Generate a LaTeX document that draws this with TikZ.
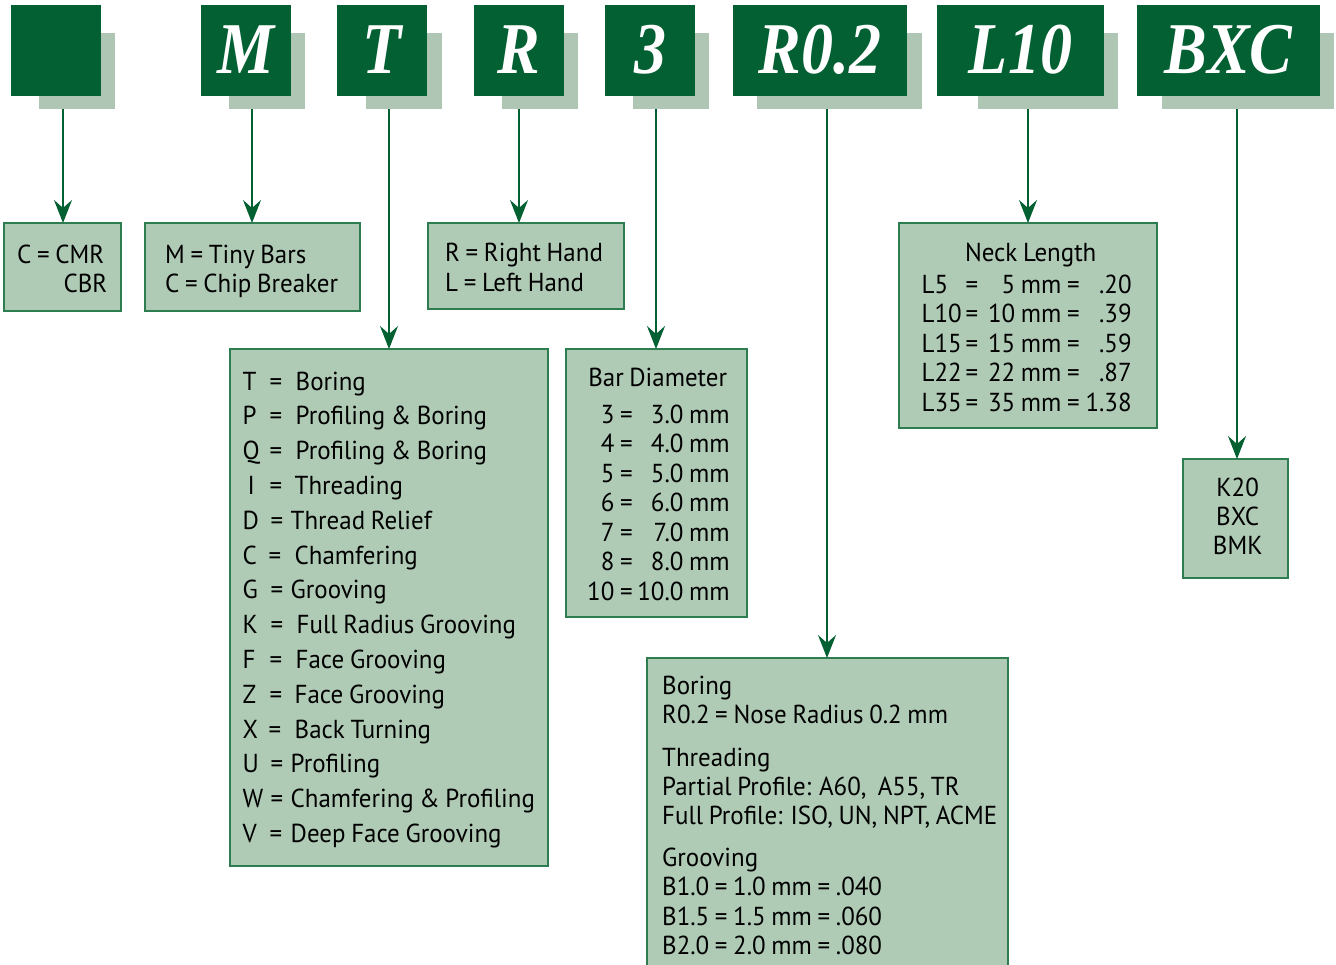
\documentclass[tikz,border=0pt]{standalone}
\usepackage{fontspec}
\usepackage{graphicx}
\setmainfont{PT Sans}[FakeStretch=0.96,WordSpace=0.85]
\newfontfamily\hdfont{Liberation Serif}
\usetikzlibrary{arrows.meta}
\definecolor{dkgreen}{RGB}{3,96,51}
\definecolor{sage}{RGB}{176,203,181}
\definecolor{shadowc}{RGB}{175,198,181}
\definecolor{edgec}{RGB}{45,125,80}
\newcommand\Ln[1]{\hbox{#1}}
\newcommand\putL[2]{\rlap{\hspace*{#1pt}#2}}
\newcommand\putR[2]{\rlap{\hspace*{#1pt}\llap{#2}}}
\newcommand\putC[2]{\rlap{\hspace*{#1pt}\hbox to 0pt{\hss#2\hss}}}
\newcommand\Lines[2]{\vtop{\baselineskip=#1pt\lineskiplimit=-1000pt\lineskip=0pt\relax #2}}
\newcommand\HT[1]{\scalebox{1}[1.14]{#1}}
\tikzset{
 shbox/.style={fill=shadowc, draw=none, inner sep=0pt, outer sep=0pt, anchor=north west, minimum height=76pt},
 hdbox/.style={fill=dkgreen, draw=none, inner sep=0pt, outer sep=0pt, anchor=north west, minimum height=91pt},
 hdtext/.style={text=white, font=\hdfont\bfseries\itshape\fontsize{64}{64}\selectfont, anchor=base, inner sep=0pt},
 infobox/.style={fill=sage, draw=edgec, line width=1.2pt, inner sep=0pt, outer sep=0pt, anchor=north west},
 txt/.style={anchor=base west, inner sep=0pt, font=\fontsize{26}{29.5}\selectfont, text=black},
 conn/.style={draw=dkgreen, line width=2pt, -{Stealth[length=23pt,width=18pt,inset=8pt]}},
}
\begin{document}
\begin{tikzpicture}[x=1pt,y=-1pt]
\useasboundingbox (0,0) rectangle (1336,964);
\clip (0,0) rectangle (1336,964);
\fill[white] (0,0) rectangle (1336,964);
% header shadows
\node[shbox, minimum width=76pt] (s1) at (39,33) {};
\node[shbox, minimum width=76pt] (sM) at (229,33) {};
\node[shbox, minimum width=76pt] (sT) at (366,33) {};
\node[shbox, minimum width=76pt] (sR) at (502,33) {};
\node[shbox, minimum width=76pt] (s3) at (633,33) {};
\node[shbox, minimum width=165pt] (sR02) at (757,33) {};
\node[shbox, minimum width=140pt] (sL10) at (978,33) {};
\node[shbox, minimum width=172pt] (sBXC) at (1162,33) {};
% header boxes
\node[hdbox, minimum width=90pt] (h1) at (11,5) {};
\node[hdbox, minimum width=90pt] (hM) at (201,5) {};
\node[hdbox, minimum width=90pt] (hT) at (337,5) {};
\node[hdbox, minimum width=90pt] (hR) at (474,5) {};
\node[hdbox, minimum width=90pt] (h3) at (605,5) {};
\node[hdbox, minimum width=174pt] (hR02) at (733,5) {};
\node[hdbox, minimum width=167pt] (hL10) at (937,5) {};
\node[hdbox, minimum width=183pt] (hBXC) at (1137,5) {};
\node[hdtext] (tM) at (246,73) {\HT{M}};
\node[hdtext] (tT) at (382,73) {\HT{T}};
\node[hdtext] (tR) at (519,73) {\HT{R}};
\node[hdtext] (t3) at (650,73) {\HT{3}};
\node[hdtext] (tR02) at (820,73) {\HT{R0.2}};
\node[hdtext] (tL10) at (1020.5,73) {\HT{L10}};
\node[hdtext] (tBXC) at (1228.5,73) {\HT{BXC}};
% info boxes
\node[infobox, minimum width=117pt, minimum height=88pt] (bC) at (4,223) {};
\node[infobox, minimum width=215pt, minimum height=88pt] (bM) at (145,223) {};
\node[infobox, minimum width=318pt, minimum height=517pt] (bT) at (230,349) {};
\node[infobox, minimum width=196pt, minimum height=86pt] (bR) at (428,223) {};
\node[infobox, minimum width=181pt, minimum height=268pt] (b3) at (566,349) {};
\node[infobox, minimum width=361pt, minimum height=340pt] (bR02) at (647,658) {};
\node[infobox, minimum width=258pt, minimum height=205pt] (bL) at (899,223) {};
\node[infobox, minimum width=105pt, minimum height=119pt] (bB) at (1183,459) {};
% connectors
\draw[conn] (s1.south -| 63,0) -- (bC.north -| 63,0);
\draw[conn] (sM.south -| 252,0) -- (bM.north -| 252,0);
\draw[conn] (sT.south -| 389,0) -- (bT.north -| 389,0);
\draw[conn] (sR.south -| 519,0) -- (bR.north -| 519,0);
\draw[conn] (s3.south -| 656,0) -- (b3.north -| 656,0);
\draw[conn] (sR02.south -| 827,0) -- (bR02.north -| 827,0);
\draw[conn] (sL10.south -| 1028,0) -- (bL.north -| 1028,0);
\draw[conn] (sBXC.south -| 1237,0) -- (bB.north -| 1237,0);
% texts
\node[txt] (xC) at (17,263) {\Lines{29}{\Ln{C = CMR}\Ln{\putR{90}{CBR}}}};
\node[txt] (xM) at (165,263) {\Lines{29}{\Ln{M = Tiny Bars}\Ln{C = Chip Breaker}}};
\node[txt] (xR) at (445,261) {\Lines{30}{\Ln{R = Right Hand}\Ln{L = Left Hand}}};
\node[txt] (xT) at (242,390) {\Lines{34.8}{%
\Ln{\putL{0}{T}\putL{27}{=}\putL{53}{Boring}}
\Ln{\putL{0}{P}\putL{27}{=}\putL{53}{Profiling \& Boring}}
\Ln{\putL{0}{Q}\putL{27}{=}\putL{53}{Profiling \& Boring}}
\Ln{\putL{5}{I}\putL{27}{=}\putL{52}{Threading}}
\Ln{\putL{0}{D}\putL{28}{=}\putL{48}{Thread Relief}}
\Ln{\putL{0}{C}\putL{26}{=}\putL{52}{Chamfering}}
\Ln{\putL{0}{G}\putL{28}{=}\putL{48}{Grooving}}
\Ln{\putL{0}{K}\putL{28}{=}\putL{54}{Full Radius Grooving}}
\Ln{\putL{0}{F}\putL{27}{=}\putL{53}{Face Grooving}}
\Ln{\putL{0}{Z}\putL{27}{=}\putL{52}{Face Grooving}}
\Ln{\putL{0}{X}\putL{26}{=}\putL{52}{Back Turning}}
\Ln{\putL{0}{U}\putL{28}{=}\putL{48}{Profiling}}
\Ln{\putL{0}{W}\putL{28}{=}\putL{48}{Chamfering \& Profiling}}
\Ln{\putL{0}{V}\putL{27}{=}\putL{48}{Deep Face Grooving}}}};
\node[txt] (x3) at (585,386) {\Lines{29.5}{%
\Ln{\putC{72}{Bar Diameter}}\vskip7.5pt
\Ln{\putR{47}{3 =}\putR{144}{3.0 mm}}
\Ln{\putR{47}{4 =}\putR{144}{4.0 mm}}
\Ln{\putR{47}{5 =}\putR{144}{5.0 mm}}
\Ln{\putR{47}{6 =}\putR{144}{6.0 mm}}
\Ln{\putR{47}{7 =}\putR{144}{7.0 mm}}
\Ln{\putR{47}{8 =}\putR{144}{8.0 mm}}
\Ln{\putR{47}{10 =}\putR{144}{10.0 mm}}}};
\node[txt] (xL) at (921,261) {\Lines{29.5}{%
\Ln{\putC{109}{Neck Length}}\vskip2.5pt
\Ln{\putL{0}{L5}\putL{44}{=}\putR{158}{5 mm =}\putR{210}{.20}}
\Ln{\putL{0}{L10}\putL{44}{=}\putR{158}{10 mm =}\putR{210}{.39}}
\Ln{\putL{0}{L15}\putL{44}{=}\putR{158}{15 mm =}\putR{210}{.59}}
\Ln{\putL{0}{L22}\putL{44}{=}\putR{158}{22 mm =}\putR{210}{.87}}
\Ln{\putL{0}{L35}\putL{44}{=}\putR{158}{35 mm =}\putR{210}{1.38}}}};
\node[txt] (xB) at (1237,496) {\Lines{29.3}{\Ln{\putC{0}{K20}}\Ln{\putC{0}{BXC}}\Ln{\putC{0}{BMK}}}};
\node[txt] (xR02) at (662,694) {\Lines{29.3}{%
\Ln{Boring}
\Ln{R0.2 = Nose Radius 0.2 mm}\vskip13.5pt
\Ln{Threading}
\Ln{Partial Profile: A60,\ \ A55, TR}
\Ln{Full Profile: ISO, UN, NPT, ACME}\vskip12.5pt
\Ln{Grooving}
\Ln{B1.0 = 1.0 mm = .040}
\Ln{B1.5 = 1.5 mm = .060}
\Ln{B2.0 = 2.0 mm = .080}}};
\end{tikzpicture}
\end{document}
